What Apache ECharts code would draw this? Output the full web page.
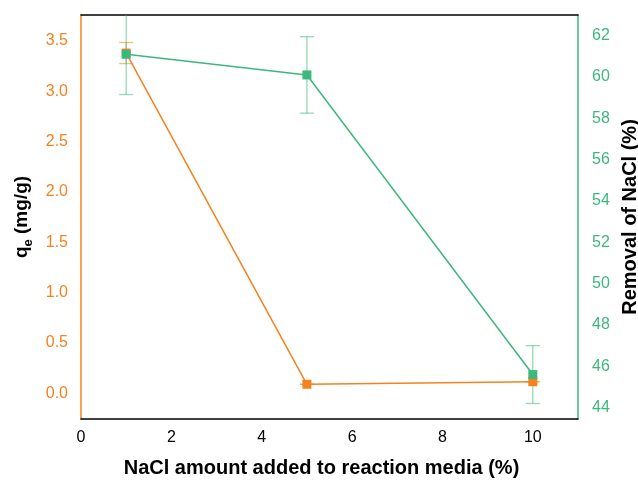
<!DOCTYPE html>
<html>
<head>
<meta charset="utf-8">
<script src="https://cdn.jsdelivr.net/npm/echarts@6/dist/echarts.min.js"></script>
<style>
  html, body { margin: 0; padding: 0; background: #fff; }
  #chart { width: 638px; height: 482px; }
</style>
</head>
<body>
<div id="chart"></div>
<script>
// NaCl added to the reaction media (%)
const nacl = [1, 5, 10];
// Adsorption capacity q_e (mg/g) and its standard deviation
const qe = [3.38, 0.09, 0.115];
const qeErr = [0.105, 0, 0];
// Removal of NaCl (%) and its standard deviation
const removal = [61.1, 60.1, 45.6];
const removalErr = [1.95, 1.85, 1.4];
// Tick labels
const xTicks = [0, 2, 4, 6, 8, 10];
const qeTicks = [0, 0.5, 1, 1.5, 2, 2.5, 3, 3.5];
const removalTicks = [44, 46, 48, 50, 52, 54, 56, 58, 60, 62];

const ORANGE = '#F5821F';
const GREEN = '#3DB87C';
const FONT = 'Liberation Sans, Arial, sans-serif';

function errorBars(xs, ys, errs, axisIndex, color) {
  return {
    type: 'custom',
    yAxisIndex: axisIndex,
    clip: true,
    silent: true,
    z: 3,
    data: xs.map((x, i) => [x, ys[i] - errs[i], ys[i] + errs[i]]),
    renderItem: function (params, api) {
      const lo = api.coord([api.value(0), api.value(1)]);
      const hi = api.coord([api.value(0), api.value(2)]);
      const w = 7;
      const style = { stroke: color, lineWidth: 1.3, opacity: 0.55 };
      return {
        type: 'group',
        children: [
          { type: 'line', shape: { x1: lo[0], y1: lo[1], x2: hi[0], y2: hi[1] }, style },
          { type: 'line', shape: { x1: lo[0] - w, y1: lo[1], x2: lo[0] + w, y2: lo[1] }, style },
          { type: 'line', shape: { x1: hi[0] - w, y1: hi[1], x2: hi[0] + w, y2: hi[1] }, style }
        ]
      };
    }
  };
}

const chart = echarts.init(document.getElementById('chart'), null, { renderer: 'canvas' });
chart.setOption({
  animation: false,
  backgroundColor: '#fff',
  textStyle: { fontFamily: FONT },
  grid: {
    left: 81, right: 60, top: 15, bottom: 63,
    containLabel: false, outerBoundsMode: 'none', show: false
  },
  xAxis: [
    {
      type: 'value', min: 0, max: 11, position: 'bottom',
      name: 'NaCl amount added to reaction media (%)',
      nameLocation: 'middle', nameGap: 39,
      nameTextStyle: { fontSize: 20, fontWeight: 'bold', color: '#000', fontFamily: FONT, padding: [0, 16, 0, 0] },
      axisLine: { show: true, onZero: false, lineStyle: { color: '#000', width: 1.5 } },
      axisTick: { show: false },
      splitLine: { show: false },
      axisLabel: { customValues: xTicks, color: '#000', fontSize: 16, margin: 11, fontFamily: FONT }
    },
    {
      // top frame line
      type: 'value', min: 0, max: 11, position: 'top',
      axisLine: { show: true, onZero: false, lineStyle: { color: '#000', width: 1.5 } },
      axisTick: { show: false },
      splitLine: { show: false },
      axisLabel: { show: false }
    }
  ],
  yAxis: [
    {
      type: 'value', min: -0.255, max: 3.758, position: 'left',
      name: '{b|q}{s|e}{b| (mg/g)}',
      nameLocation: 'middle', nameGap: 49, nameRotate: 90,
      nameTextStyle: {
        color: '#000', fontFamily: FONT,
        rich: {
          b: { fontSize: 19, fontWeight: 'bold', color: '#000', fontFamily: FONT, lineHeight: 23, verticalAlign: 'bottom' },
          s: { fontSize: 13, fontWeight: 'bold', color: '#000', fontFamily: FONT, lineHeight: 23, verticalAlign: 'bottom', padding: [0, 0, -4, 0] }
        }
      },
      axisLine: { show: true, onZero: false, lineStyle: { color: ORANGE, width: 1.5 } },
      axisTick: { show: false },
      splitLine: { show: false },
      axisLabel: {
        customValues: qeTicks, color: ORANGE, fontSize: 16, margin: 13, fontFamily: FONT,
        formatter: v => v.toFixed(1)
      }
    },
    {
      type: 'value', min: 43.45, max: 63.0, position: 'right',
      name: 'Removal of NaCl (%)',
      nameLocation: 'middle', nameGap: 42, nameRotate: 90,
      nameTextStyle: { fontSize: 20, fontWeight: 'bold', color: '#000', fontFamily: FONT },
      axisLine: { show: true, onZero: false, lineStyle: { color: GREEN, width: 1.5 } },
      axisTick: { show: false },
      splitLine: { show: false },
      axisLabel: { customValues: removalTicks, color: GREEN, fontSize: 16, margin: 14, fontFamily: FONT }
    }
  ],
  series: [
    errorBars(nacl, qe, qeErr, 0, ORANGE),
    {
      type: 'line', yAxisIndex: 0, z: 4,
      data: nacl.map((x, i) => [x, qe[i]]),
      symbol: 'rect', symbolSize: 9,
      lineStyle: { color: ORANGE, width: 1.5 },
      itemStyle: { color: ORANGE }
    },
    errorBars(nacl, removal, removalErr, 1, GREEN),
    {
      type: 'line', yAxisIndex: 1, z: 5,
      data: nacl.map((x, i) => [x, removal[i]]),
      symbol: 'rect', symbolSize: 9,
      lineStyle: { color: GREEN, width: 1.5 },
      itemStyle: { color: GREEN }
    }
  ]
});
</script>
</body>
</html>
